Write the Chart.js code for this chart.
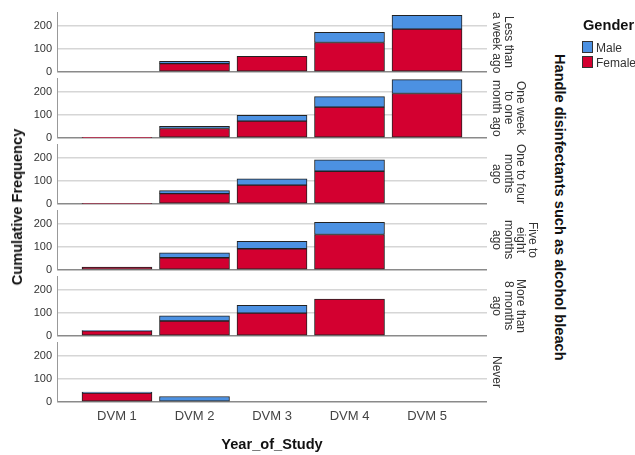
<!DOCTYPE html>
<html><head><meta charset="utf-8">
<script src="https://cdn.jsdelivr.net/npm/chart.js@4/dist/chart.umd.min.js"></script>
<style>
body{margin:0;width:635px;height:455px;background:#fff;position:relative;overflow:hidden;font-family:"Liberation Sans",Arial,sans-serif;}
canvas{position:absolute;left:0;}
.row{position:absolute;left:491px;writing-mode:vertical-rl;text-align:center;font-size:12px;line-height:12px;color:#333;height:60px;white-space:nowrap;}
.ttl{position:absolute;font-weight:bold;font-size:14.6px;color:#111;white-space:nowrap;}
.sw{position:absolute;left:582px;width:9px;height:10px;border:1px solid #333;}
.lg{position:absolute;left:596px;font-size:12px;color:#333;}
</style></head><body>
<script>
const categories = ['DVM 1','DVM 2','DVM 3','DVM 4','DVM 5'];
const rowLabels = ['Less than<br>a week ago','One week<br>to one<br>month ago','One to four<br>months<br>ago','Five to<br>eight<br>months<br>ago','More than<br>8 months<br>ago','Never'];
const yTicks = [0,50,100,150,200,250];

const femaleLessWeek  = [0,36,68,128,186];
const maleLessWeek    = [0,10,0,44,60];
const femaleWeekMonth = [2,41,73,134,193];
const maleWeekMonth   = [0,10,25,45,60];
const femaleOneFour   = [3,45,82,142,0];
const maleOneFour     = [0,13,27,49,0];
const femaleFiveEight = [13,53,92,154,0];
const maleFiveEight   = [0,21,32,53,0];
const femaleMore8     = [22,65,99,160,0];
const maleMore8       = [2,22,34,0,0];
const femaleNever     = [39,0,0,0,0];
const maleNever       = [4,24,0,0,0];

const females = [femaleLessWeek,femaleWeekMonth,femaleOneFour,femaleFiveEight,femaleMore8,femaleNever];
const males   = [maleLessWeek,maleWeekMonth,maleOneFour,maleFiveEight,maleMore8,maleNever];

const RED = 'rgb(211,0,48)', BLUE = 'rgb(76,145,226)';
const FONT = '"Liberation Sans", Arial, sans-serif';
const tops = [12,78,144,210,276,342];
const PH = 60, PAD = 15;

tops.forEach((t,i)=>{
  const last = i === tops.length-1;
  const cv = document.createElement('canvas');
  const h = PAD + PH + (last ? 32 : PAD);
  cv.style.top = (t-PAD)+'px';
  cv.style.width = '495px'; cv.style.height = h+'px';
  cv.width = 495; cv.height = h;
  document.body.appendChild(cv);
  const mk = arr => arr.map((v,j)=>({x:j,y:v}));
  new Chart(cv,{
    type:'bar',
    data:{datasets:[
      {label:'Female',data:mk(females[i]),backgroundColor:RED,borderColor:'#222',borderWidth:1,borderSkipped:false,barThickness:70},
      {label:'Male',data:mk(males[i]),backgroundColor:BLUE,borderColor:'#222',borderWidth:1,borderSkipped:false,barThickness:70}
    ]},
    options:{
      responsive:false,animation:false,
      layout:{padding:{top:PAD,bottom:last?0:PAD,left:0,right:8}},
      plugins:{legend:{display:false},tooltip:{enabled:false}},
      scales:{
        x:{type:'linear',stacked:true,offset:false,min:-0.774,max:4.774,display:last,
           grid:{display:false,drawTicks:false},border:{display:false},
           afterBuildTicks:s=>{s.ticks=categories.map((c,j)=>({value:j}));},
           afterFit:s=>{s.height=last?32:0;},
           ticks:{autoSkip:false,maxRotation:0,padding:7,color:'#444',font:{family:FONT,size:13},callback:v=>categories[v]}},
        y:{stacked:true,min:0,max:260,
           afterBuildTicks:s=>{s.ticks=yTicks.map(v=>({value:v}));},
           afterFit:s=>{s.width=57;},
           grid:{drawTicks:false,color:c=>c.tick&&c.tick.value===0?'#8a8a8a':'#d6d6d6',lineWidth:1.5},
           border:{display:true,color:'#999',width:1},
           ticks:{padding:5,color:'#333',font:{family:FONT,size:11},callback:v=>v%100===0?v:''}}
      }
    }
  });
  const d = document.createElement('div');
  d.className='row'; d.style.top=t+'px'; d.innerHTML=rowLabels[i];
  document.body.appendChild(d);
});
</script>
<div class="ttl" style="left:17px;top:207px;transform:translate(-50%,-50%) rotate(-90deg);">Cumulative Frequency</div>
<div class="ttl" style="left:272px;top:444px;transform:translate(-50%,-50%);">Year_of_Study</div>
<div class="ttl" style="left:552px;top:12px;height:390px;writing-mode:vertical-rl;text-align:center;">Handle disinfectants such as alcohol bleach</div>
<div class="ttl" style="left:583px;top:17px;">Gender</div>
<div class="sw" style="top:41px;background:rgb(76,145,226);"></div>
<div class="lg" style="top:41px;">Male</div>
<div class="sw" style="top:56px;background:rgb(211,0,48);"></div>
<div class="lg" style="top:56px;">Female</div>
</body></html>
